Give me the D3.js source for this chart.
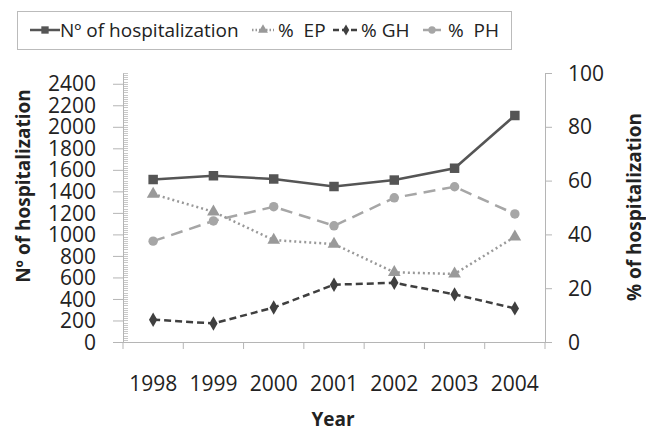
<!DOCTYPE html>
<html>
<head>
<meta charset="utf-8">
<script src="https://cdn.jsdelivr.net/npm/d3@7"></script>
<style>
  body { margin: 0; background: #fff; }
  svg text { font-family: "Open Sans", sans-serif; fill: #222; white-space: pre; }
</style>
</head>
<body>
<svg id="chart" width="646" height="431"></svg>
<script>
// data
const years = ["1998", "1999", "2000", "2001", "2002", "2003", "2004"];
const hospitalizations = [1510, 1545, 1515, 1445, 1505, 1615, 2105];
const pctEP = [55, 48.4, 37.9, 36.4, 25.9, 25.3, 39.1];
const pctGH = [8.3, 6.9, 12.8, 21.3, 22, 17.7, 12.5];
const pctPH = [37.5, 45, 50.3, 43.2, 53.6, 57.7, 47.6];
const leftTicks = d3.range(0, 2401, 200);
const rightTicks = [0, 20, 40, 60, 80, 100];

const svg = d3.select("#chart");
const plotLeft = 123, plotRight = 545, plotTop = 73, plotBottom = 342;

const x = d3.scaleBand().domain(years).range([plotLeft, plotRight]);
const yL = d3.scaleLinear().domain([0, 2500]).range([plotBottom, plotTop]);
const yR = d3.scaleLinear().domain([0, 100]).range([plotBottom, plotTop]);

const axisColor = "#b5b5b5";

// left axis: minor ticks inside, major ticks outside
const minor = d3.range(0, 2501, 20);
svg.append("g").selectAll("line").data(minor).enter().append("line")
  .attr("x1", plotLeft).attr("x2", plotLeft + 5)
  .attr("y1", d => Math.round(yL(d)) + 0.5).attr("y2", d => Math.round(yL(d)) + 0.5)
  .attr("stroke", "#c8c8c8").attr("stroke-width", 1);

const gL = svg.append("g").attr("transform", `translate(${plotLeft},0)`)
  .call(d3.axisLeft(yL).tickValues(leftTicks).tickFormat(d3.format("d"))
    .tickSize(10).tickPadding(18).tickSizeOuter(0));
gL.select(".domain").attr("stroke", axisColor);
gL.selectAll(".tick line").attr("stroke", axisColor);
gL.selectAll(".tick text").style("font-size", "21px").attr("fill", "#222").attr("dy", "0.34em")
  .attr("x", -27);

const gR = svg.append("g").attr("transform", `translate(${plotRight},0)`)
  .call(d3.axisRight(yR).tickValues(rightTicks).tickSize(7).tickPadding(16).tickSizeOuter(0));
gR.select(".domain").attr("stroke", axisColor);
gR.selectAll(".tick line").attr("stroke", axisColor);
gR.selectAll(".tick text").style("font-size", "21px").attr("fill", "#222").attr("dy", "0.34em");

// x axis with boundary ticks
const xb = d3.scaleLinear().domain([0, years.length]).range([plotLeft, plotRight]);
svg.append("line").attr("x1", plotLeft).attr("x2", plotRight).attr("y1", plotBottom + 0.5).attr("y2", plotBottom + 0.5)
  .attr("stroke", axisColor);
svg.append("g").selectAll("line").data(d3.range(0, years.length + 1)).enter().append("line")
  .attr("x1", d => xb(d)).attr("x2", d => xb(d)).attr("y1", plotBottom).attr("y2", plotBottom + 7)
  .attr("stroke", axisColor);
svg.append("g").selectAll("text").data(years).enter().append("text")
  .attr("x", d => x(d) + x.bandwidth() / 2).attr("y", 391)
  .attr("text-anchor", "middle").style("font-size", "21px").text(d => d);

// axis titles
svg.append("text").attr("x", 333).attr("y", 426).attr("text-anchor", "middle")
  .style("font-size", "19px").style("font-weight", "bold").text("Year");
svg.append("text").attr("transform", "translate(30,186) rotate(-90)").attr("text-anchor", "middle")
  .style("font-size", "19px").style("font-weight", "bold").text("Nº of hospitalization");
svg.append("text").attr("transform", "translate(641,207) rotate(-90)").attr("text-anchor", "middle")
  .style("font-size", "19px").style("font-weight", "bold").text("% of hospitalization");

const cx = (d, i) => x(years[i]) + x.bandwidth() / 2;

const series = [
  { name: "Nº of hospitalization", values: hospitalizations, y: yL, color: "#555555", dash: null, width: 2.5, sym: d3.symbolSquare, size: 90 },
  { name: "% EP", values: pctEP, y: yR, color: "#999999", dash: "2,3", width: 2.5, sym: d3.symbolTriangle, size: 70 },
  { name: "% GH", values: pctGH, y: yR, color: "#3f3f3f", dash: "7,4", width: 2.5, sym: d3.symbolDiamond, size: 60 },
  { name: "% PH", values: pctPH, y: yR, color: "#a6a6a6", dash: "12,7", width: 2.5, sym: d3.symbolCircle, size: 70 }
];

// draw lower layers first so the count line sits on top
[...series].reverse().forEach(s => {
  const line = d3.line().x(cx).y(d => s.y(d));
  svg.append("path").datum(s.values).attr("d", line)
    .attr("fill", "none").attr("stroke", s.color).attr("stroke-width", s.width)
    .attr("stroke-dasharray", s.dash);
  svg.append("g").selectAll("path").data(s.values).enter().append("path")
    .attr("d", d3.symbol().type(s.sym).size(s.size))
    .attr("transform", (d, i) => `translate(${cx(d, i)},${s.y(d)})`)
    .attr("fill", s.color);
});

// legend
const legend = svg.append("g");
legend.append("rect").attr("x", 17.5).attr("y", 11.5).attr("width", 494).attr("height", 38)
  .attr("fill", "#fff").attr("stroke", "#bbb");
const legendPos = [
  { lx: 30, w: 30, dash: null, tx: 60, label: "Nº of hospitalization" },
  { lx: 252, w: 22, dash: "1.5,2", tx: 278, label: "%  EP" },
  { lx: 333, w: 26, dash: "6,3", tx: 361, label: "% GH" },
  { lx: 423, w: 18, dash: "6,6", tx: 448, label: "%  PH" }
];
series.forEach((s, i) => {
  const p = legendPos[i];
  legend.append("line").attr("x1", p.lx).attr("x2", p.lx + p.w).attr("y1", 30).attr("y2", 30)
    .attr("stroke", s.color).attr("stroke-width", 2.5).attr("stroke-dasharray", p.dash);
  legend.append("path").attr("d", d3.symbol().type(s.sym).size(s.size * 0.6))
    .attr("transform", `translate(${p.lx + p.w / 2},30)`).attr("fill", s.color);
  legend.append("text").attr("x", p.tx).attr("y", 37).style("font-size", "19px").text(p.label);
});
</script>
</body>
</html>
